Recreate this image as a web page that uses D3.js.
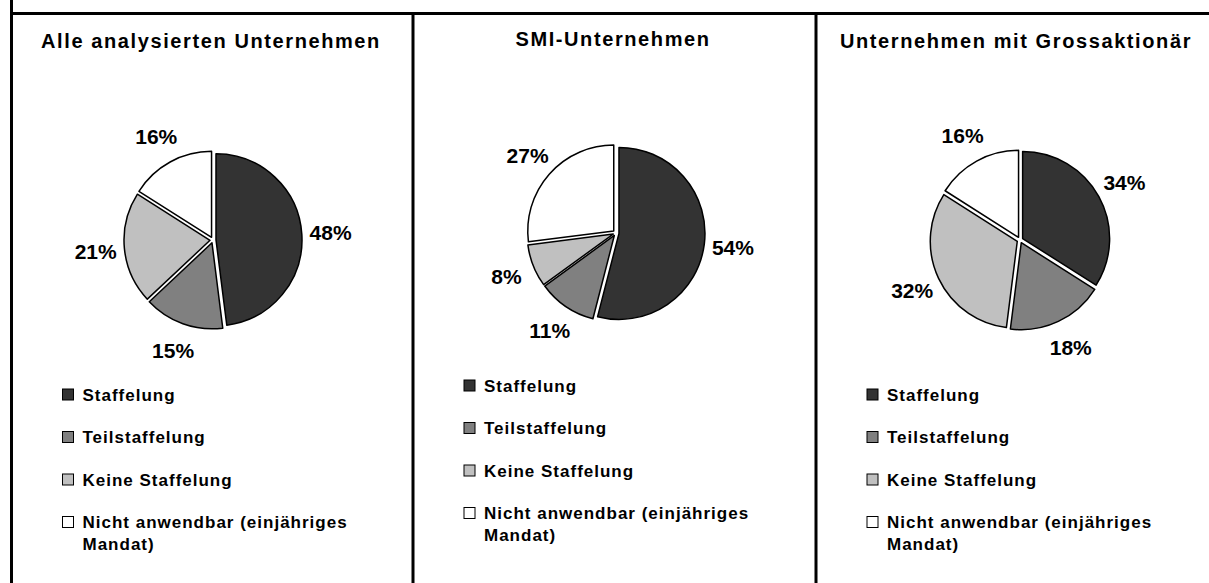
<!DOCTYPE html>
<html>
<head>
<meta charset="utf-8">
<script src="https://cdn.jsdelivr.net/npm/d3@7"></script>
<style>
  body { margin: 0; background: #fff; }
  text { font-family: "Liberation Sans", Arial, sans-serif; font-weight: bold; fill: #000; }
</style>
</head>
<body>
<svg id="chart" width="1209" height="583"></svg>
<script>
// categories + values per panel
const categories = ["Staffelung", "Teilstaffelung", "Keine Staffelung", "Nicht anwendbar (einjähriges Mandat)"];
const legendLines = [["Staffelung"], ["Teilstaffelung"], ["Keine Staffelung"], ["Nicht anwendbar (einjähriges", "Mandat)"]];
const titles = ["Alle analysierten Unternehmen", "SMI-Unternehmen", "Unternehmen mit Grossaktionär"];
const valuesAlle = [48, 15, 21, 16];
const valuesSMI = [54, 11, 8, 27];
const valuesGross = [34, 18, 32, 16];
const fills = ["#333333", "#808080", "#c0c0c0", "#ffffff"];

const svg = d3.select("#chart"),
  width = +svg.attr("width"),
  height = +svg.attr("height");

svg.append("rect").attr("width", width).attr("height", height).attr("fill", "#fff");

// panel layout (hand tuned)
const panels = [
  { title: titles[0], values: valuesAlle, left: 11.5, titleX: 211, titleY: 48, cx: 213, cy: 240, r: 86, legendY: 395 },
  { title: titles[1], values: valuesSMI, left: 413, titleX: 613, titleY: 46, cx: 616, cy: 233, r: 86, legendY: 386 },
  { title: titles[2], values: valuesGross, left: 816, titleX: 1016, titleY: 48, cx: 1020, cy: 240, r: 87, legendY: 395 }
];

// frame lines
svg.append("line").attr("x1", 11.5).attr("x2", width).attr("y1", 13.5).attr("y2", 13.5)
  .attr("stroke", "#000").attr("stroke-width", 3);
svg.append("line").attr("x1", 11.5).attr("x2", 11.5).attr("y1", 0).attr("y2", height)
  .attr("stroke", "#000").attr("stroke-width", 3);
[413, 816].forEach(x => {
  svg.append("line").attr("x1", x).attr("x2", x).attr("y1", 13).attr("y2", height)
    .attr("stroke", "#000").attr("stroke-width", 3);
});

const pie = d3.pie().sort(null).value(d => d);
const explode = 3;

panels.forEach(p => {
  const g = svg.append("g");

  g.append("text")
    .attr("x", p.titleX).attr("y", p.titleY)
    .attr("text-anchor", "middle")
    .style("font-size", "20px")
    .style("letter-spacing", "1.6px")
    .text(p.title);

  const arc = d3.arc().innerRadius(0).outerRadius(p.r);
  const labelArc = d3.arc().innerRadius(p.r * 1.37).outerRadius(p.r * 1.37);
  const arcs = pie(p.values);

  const pg = g.append("g").attr("transform", `translate(${p.cx},${p.cy})`);

  pg.selectAll("path")
    .data(arcs)
    .join("path")
      .attr("d", arc)
      .attr("transform", d => {
        const a = (d.startAngle + d.endAngle) / 2;
        return `translate(${explode * Math.sin(a)},${-explode * Math.cos(a)})`;
      })
      .attr("fill", (d, i) => fills[i])
      .attr("stroke", "#000")
      .attr("stroke-width", 1.5)
      .attr("stroke-linejoin", "round");

  pg.selectAll("text")
    .data(arcs)
    .join("text")
      .attr("x", d => labelArc.centroid(d)[0])
      .attr("y", d => labelArc.centroid(d)[1])
      .attr("text-anchor", "middle")
      .attr("dominant-baseline", "central")
      .style("font-size", "21px")
      .text(d => d.data + "%");

  // legend
  const lg = g.append("g").attr("transform", `translate(${p.left + 51},${p.legendY})`);
  let y = 0;
  legendLines.forEach((lines, i) => {
    lg.append("rect")
      .attr("x", 0).attr("y", y - 6)
      .attr("width", 11).attr("height", 11)
      .attr("fill", fills[i]).attr("stroke", "#000").attr("stroke-width", 1);
    lines.forEach((ln, j) => {
      lg.append("text")
        .attr("x", 20).attr("y", y + j * 22)
        .attr("dominant-baseline", "central")
        .style("font-size", "17px")
        .style("letter-spacing", "1px")
        .text(ln);
    });
    y += 42.5;
  });
});
</script>
</body>
</html>
